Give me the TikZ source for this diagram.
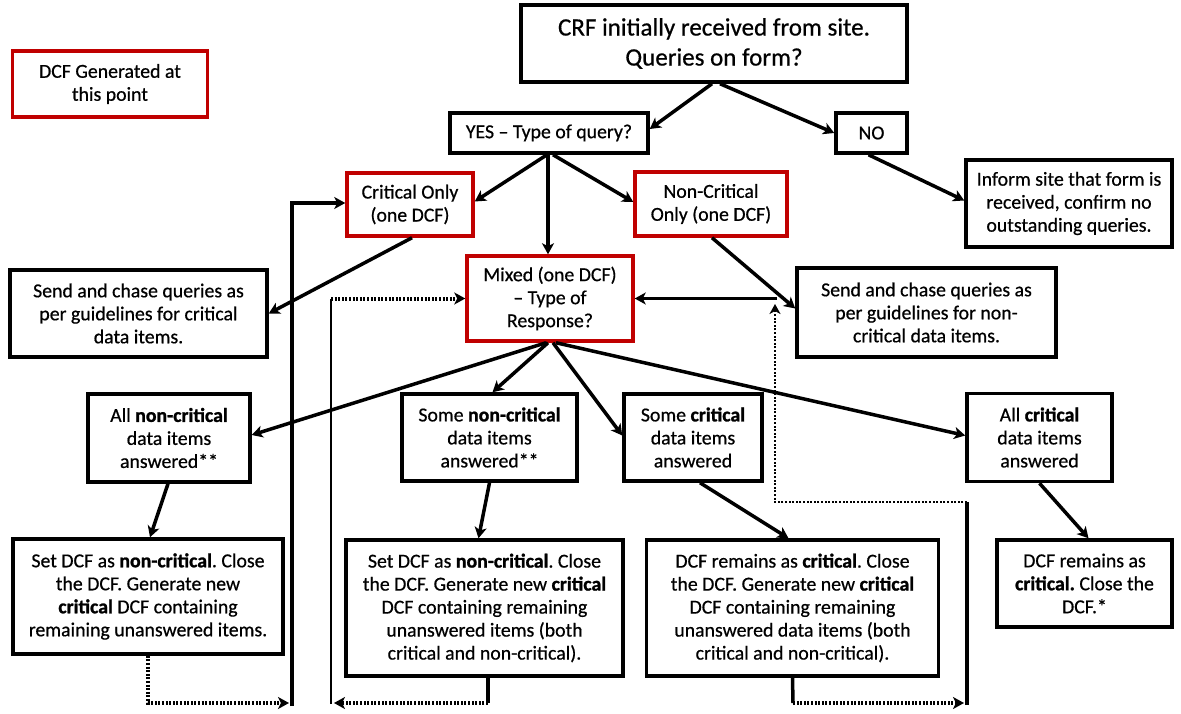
\documentclass[tikz,border=0pt]{standalone}
\usepackage{fontspec}
\setmainfont{Carlito}[UprightFeatures={FakeBold=0.6},BoldFeatures={FakeBold=1.2}]
\usetikzlibrary{arrows.meta,calc}
\definecolor{dcfred}{RGB}{192,0,0}
\frenchspacing
\begin{document}
\begin{tikzpicture}[x=1pt,y=-1pt,
  box/.style={draw=black,line width=3.5pt,fill=white,align=center,inner sep=0pt,
    font=\frenchspacing\fontsize{19.8}{23}\selectfont},
  redbox/.style={box,draw=dcfred},
  arr/.style={line width=3.5pt,-{Stealth[length=11pt,width=12pt,inset=3pt]}},
  plain/.style={line width=3.5pt},
  thinline/.style={line width=2pt},
  dotarr/.style={line width=4pt,dash pattern=on 2pt off 1.6pt,
    -{Stealth[length=11pt,width=12pt,inset=3pt]}},
  dotarrthin/.style={line width=2.6pt,dash pattern=on 2pt off 1.6pt,
    -{Stealth[length=10pt,width=11pt,inset=3pt]}}]
\useasboundingbox[fill=white] (0,0) rectangle (1181,714);

% nodes
\node[redbox,minimum width=195pt,minimum height=66pt] (legend) at (110,84) {DCF Generated at\\this point};
\node[box,minimum width=386pt,minimum height=77pt,font=\frenchspacing\fontsize{25}{30}\selectfont] (crf) at (714,43.5) {CRF initially received from site.\\Queries on form?};
\node[box,minimum width=198pt,minimum height=40pt] (yes) at (549,133) {YES – Type of query?};
\node[box,minimum width=71pt,minimum height=40pt] (no) at (871.5,133) {NO};
\node[box,minimum width=206pt,minimum height=87pt] (inform) at (1069,203.5) {Inform site that form is\\received, confirm no\\outstanding queries.};
\node[redbox,minimum width=126pt,minimum height=63pt] (crit) at (410,204.5) {Critical Only\\(one DCF)};
\node[redbox,minimum width=152pt,minimum height=64pt] (noncrit) at (711,204) {Non-Critical\\Only (one DCF)};
\node[box,minimum width=257pt,minimum height=87pt] (sendc) at (138.5,313.5) {Send and chase queries as\\per guidelines for critical\\data items.};
\node[redbox,minimum width=166pt,minimum height=85pt] (mixed) at (550,298.5) {Mixed (one DCF)\\– Type of\\Response?};
\node[box,minimum width=259pt,minimum height=89pt] (sendn) at (926.5,312.5) {Send and chase queries as\\per guidelines for non-\\critical data items.};
\node[box,minimum width=162pt,minimum height=88pt] (allnc) at (169,438) {All \textbf{non-critical}\\data items\\answered**};
\node[box,minimum width=175pt,minimum height=87pt] (somenc) at (489.5,437.5) {Some \textbf{non-critical}\\data items\\answered**};
\node[box,minimum width=138pt,minimum height=87pt] (somec) at (693,437.5) {Some \textbf{critical}\\data items\\answered};
\node[box,minimum width=145pt,minimum height=88pt] (allc) at (1039.5,437.5) {All \textbf{critical}\\data items\\answered};
\node[box,minimum width=270pt,minimum height=115pt] (setl) at (148,596.5) {Set DCF as \textbf{non-critical}. Close\\the DCF. Generate new\\\textbf{critical} DCF containing\\remaining unanswered items.};
\node[box,minimum width=277pt,minimum height=136pt] (setm) at (484.5,608) {Set DCF as \textbf{non-critical}. Close\\the DCF. Generate new \textbf{critical}\\DCF containing remaining\\unanswered items (both\\critical and non-critical).};
\node[box,minimum width=292pt,minimum height=136pt] (remm) at (792.5,608) {DCF remains as \textbf{critical}. Close\\the DCF. Generate new \textbf{critical}\\DCF containing remaining\\unanswered data items (both\\critical and non-critical).};
\node[box,minimum width=175pt,minimum height=87pt] (remr) at (1084.5,583.5) {DCF remains as\\\textbf{critical.} Close the\\DCF.*};

% main arrows
\draw[arr] ([xshift=-2pt]crf.south) -- ([yshift=4pt]yes.east);
\draw[arr] ([xshift=6pt]crf.south) -- (no.west);
\draw[arr] ([xshift=-2pt]yes.south) -- ([yshift=3pt]crit.east);
\draw[arr] ([xshift=-1pt]yes.south) -- ([xshift=-2pt]mixed.north);
\draw[arr] ([xshift=4pt]yes.south) -- ([yshift=2pt]noncrit.west);
\draw[arr] ([xshift=-3pt]no.south) -- ([yshift=3pt]inform.west);
\draw[arr] ([xshift=2pt]crit.south) -- (sendc.east);
\draw[arr] ([xshift=1pt]noncrit.south) -- ([yshift=4pt]sendn.west);
\draw[arr] ([xshift=-4pt]mixed.south) -- ([yshift=3pt]allnc.east);
\draw[arr] ([xshift=-2pt]mixed.south) -- ([xshift=3pt]somenc.north);
\draw[arr] ([xshift=3pt]mixed.south) -- ([yshift=2pt]somec.west);
\draw[arr] ([xshift=6pt]mixed.south) -- ([yshift=2pt]allc.west);
\draw[arr] ([xshift=-1pt]allnc.south) -- ([xshift=2pt]setl.north);
\draw[arr] (somenc.south) -- ([xshift=-6pt]setm.north);
\draw[arr] ([xshift=7pt]somec.south) -- ([xshift=-4pt]remm.north);
\draw[arr] (allc.south) -- ([xshift=4pt]remr.north);

% loop back: left
\coordinate (lbA) at (289,703);
\coordinate (lbB) at (292,706);
\draw[dotarr] (setl.south) |- (lbA);
\draw[arr] (lbB) |- ([yshift=1.5pt]crit.west);

% loop back: middle
\coordinate (mA) at (488,703);
\coordinate (mB) at (334,703);
\coordinate (mC) at (331,704);
\coordinate (mD) at (331,298.5);
\draw[plain] ([xshift=3.5pt]setm.south) -- (mA);
\draw[dotarr] (mA) -- (mB);
\draw[thinline] (mC) -- (mD);
\draw[dotarr] (mD) -- (mixed.west);

% loop back: right
\coordinate (rA) at (793,703);
\coordinate (rB) at (964,703);
\coordinate (rC) at (967,705);
\coordinate (rD) at (967,502);
\coordinate (rE) at (775,502);
\coordinate (rF) at (775,304);
\coordinate (rG) at (777,298.5);
\draw[plain] (remm.south) -- (rA);
\draw[dotarr] (rA) -- (rB);
\draw[plain] (rC) -- (rD);
\draw[dotarrthin] (rD) -- (rE) -- (rF);
\draw[arr] (rG) -- (mixed.east);
\end{tikzpicture}
\end{document}
